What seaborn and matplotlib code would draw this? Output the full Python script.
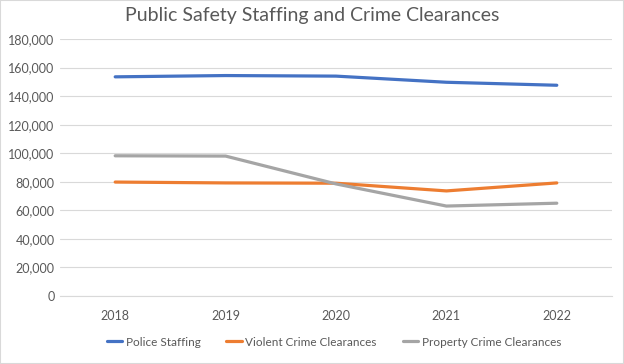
import numpy as np
import pandas as pd
import seaborn as sns
import matplotlib.pyplot as plt
from matplotlib.patches import Rectangle
from matplotlib.ticker import FuncFormatter

years = ['2018', '2019', '2020', '2021', '2022']
police_staffing = [153500, 154400, 154000, 149700, 147600]
violent_clearances = [79800, 79200, 79000, 73600, 79200]
property_clearances = [98200, 98000, 78500, 63000, 65000]

series_names = ['Police Staffing', 'Violent Crime Clearances', 'Property Crime Clearances']
colors = ['#4472C4', '#ED7D31', '#A5A5A5']

df = pd.DataFrame({
    'Year': years * 3,
    'Value': police_staffing + violent_clearances + property_clearances,
    'Series': [s for s in series_names for _ in years],
})

sns.set_style('white')
plt.rcParams['font.family'] = ['Lato', 'DejaVu Sans']

fig = plt.figure(figsize=(6.24, 3.64), dpi=100)
ax = fig.add_axes([60 / 624, 1 - 296 / 364, (612 - 60) / 624, (296 - 39) / 364])

sns.lineplot(data=df, x='Year', y='Value', hue='Series', hue_order=series_names,
             palette=colors, linewidth=2.3, sort=False, ax=ax)

ax.set_xlim(-0.5, 4.5)
ax.set_ylim(0, 180000)
ax.set_yticks(np.arange(0, 180001, 20000))
ax.yaxis.set_major_formatter(FuncFormatter(lambda v, p: f'{int(v):,}'))
ax.grid(axis='y', color='#D9D9D9', linewidth=0.8)
ax.set_axisbelow(True)
for s in ['top', 'right', 'left']:
    ax.spines[s].set_visible(False)
ax.spines['bottom'].set_color('#D9D9D9')
ax.tick_params(axis='both', length=0, labelsize=9, labelcolor='#595959')
ax.tick_params(axis='x', pad=10)
ax.tick_params(axis='y', pad=4)
ax.set_xlabel('')
ax.set_ylabel('')

ax.legend(loc='center', bbox_to_anchor=(0.535, 22 / 364), bbox_transform=fig.transFigure,
          ncol=3, frameon=False, fontsize=8.5, labelcolor='#595959',
          handlelength=1.3, columnspacing=2.2, handletextpad=0.3)

fig.text(0.5, 1 - 15 / 364, 'Public Safety Staffing and Crime Clearances',
         ha='center', va='center', fontsize=14, color='#595959')

fig.patches.append(Rectangle((0, 0), 1, 1, transform=fig.transFigure,
                             fill=False, edgecolor='#D9D9D9', linewidth=1.5))

plt.savefig('out.png', dpi=100)
